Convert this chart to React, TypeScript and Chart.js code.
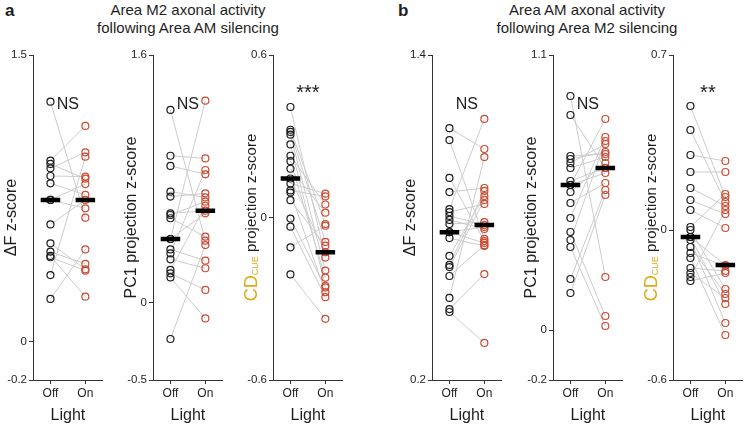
import React, { useEffect, useRef } from 'react';
import { Chart, registerables } from 'chart.js';

Chart.register(...registerables);

const FONT = "'Liberation Sans', Arial, sans-serif";
const TEXT = '#1e1e1e';
const AXIS = '#333333';
const OFF_COLOR = '#1c1c1c';
const ON_COLOR = '#cd4a31';
const PAIR_COLOR = '#cccccc';
const CUE_COLOR = '#ddaa1a';

const xCategories = ['Off', 'On'];
const xTitle = 'Light';

// ---- Panel a: Area M2 axonal activity following Area AM silencing ----
const aDfOff = [1.256, 0.947, 0.93, 0.907, 0.867, 0.829, 0.742, 0.742, 0.614, 0.515, 0.471, 0.449, 0.442, 0.349, 0.224];
const aDfOn = [0.649, 1.129, 0.853, 0.991, 0.864, 0.768, 0.825, 0.698, 0.742, 0.379, 0.407, 0.236, 0.372, 0.968, 0.483];
const aDfTicks = [-0.2, 0, 1.5];

const aPcOff = [1.245, 0.949, 0.883, 0.717, 0.685, 0.577, 0.566, 0.545, 0.411, 0.411, 0.344, 0.318, 0.28, 0.211, 0.189, 0.163, -0.235];
const aPcOn = [0.4, 0.932, 0.829, 0.68, 0.706, 0.594, 0.652, 0.426, 1.305, 0.577, 0.271, 0.857, 0.222, 0.626, 0.082, -0.102, 0.372];
const aPcTicks = [-0.5, 0, 1.6];

const aCdOff = [0.408, 0.324, 0.316, 0.306, 0.27, 0.228, 0.208, 0.18, 0.144, 0.126, 0.1, 0.092, 0.064, -0.004, -0.034, -0.11, -0.21];
const aCdOn = [-0.148, -0.024, -0.09, -0.196, -0.252, 0.048, -0.222, 0.018, -0.128, 0.088, 0.078, -0.276, -0.104, -0.258, -0.294, -0.03, -0.374];
const aCdTicks = [-0.6, 0, 0.6];

// ---- Panel b: Area AM axonal activity following Area M2 silencing ----
const bDfOff = [1.13, 1.086, 0.946, 0.894, 0.831, 0.82, 0.806, 0.791, 0.776, 0.746, 0.746, 0.724, 0.658, 0.625, 0.617, 0.584, 0.503, 0.462, 0.451];
const bDfOn = [1.053, 0.721, 0.713, 0.909, 1.164, 0.85, 0.772, 0.758, 0.783, 0.765, 0.706, 0.695, 0.879, 0.898, 0.865, 0.698, 1.023, 0.591, 0.337];
const bDfTicks = [0.2, 1.4];

const bPcOff = [0.936, 0.86, 0.696, 0.684, 0.668, 0.648, 0.596, 0.58, 0.58, 0.552, 0.508, 0.448, 0.392, 0.36, 0.332, 0.204, 0.148];
const bPcOn = [0.212, 0.648, 0.704, 0.712, 0.744, 0.692, 0.648, 0.844, 0.628, 0.668, 0.588, 0.772, 0.056, 0.756, 0.016, 0.56, 0.54];
const bPcTicks = [-0.2, 0, 1.1];

const bCdOff = [0.496, 0.4, 0.3, 0.232, 0.168, 0.12, 0.08, 0.012, 0.0, -0.028, -0.028, -0.04, -0.068, -0.092, -0.112, -0.152, -0.172, -0.188, -0.204];
const bCdOn = [0.132, 0.112, 0.276, 0.232, 0.096, 0.064, 0.008, 0.144, -0.236, -0.14, -0.296, -0.372, -0.256, -0.144, -0.42, -0.164, -0.272, 0.08, -0.172];
const bCdTicks = [-0.6, 0, 0.7];

const significance = ['NS', 'NS', '***', 'NS', 'NS', '**'];

const yTitleDf = [{ text: '\u0394F z-score', size: 16, color: TEXT, dy: 0 }];
const yTitlePc = [{ text: 'PC1 projection z-score', size: 16, color: TEXT, dy: 0 }];
const yTitleCd = [
  { text: 'CD', size: 18, color: CUE_COLOR, dy: 0 },
  { text: 'CUE', size: 9, color: CUE_COLOR, dy: 4 },
  { text: ' projection z-score', size: 15, color: TEXT, dy: 0 },
];

const panelTitles = [
  { letter: 'a', lines: ['Area M2 axonal activity', 'following Area AM silencing'], center: 188, letterX: 5 },
  { letter: 'b', lines: ['Area AM axonal activity', 'following Area M2 silencing'], center: 587, letterX: 398 },
];

const axisXs = [33, 153, 273, 432, 553, 673];

const panels = [
  { off: aDfOff, on: aDfOn, ticks: aDfTicks, title: yTitleDf, sig: significance[0] },
  { off: aPcOff, on: aPcOn, ticks: aPcTicks, title: yTitlePc, sig: significance[1] },
  { off: aCdOff, on: aCdOn, ticks: aCdTicks, title: yTitleCd, sig: significance[2] },
  { off: bDfOff, on: bDfOn, ticks: bDfTicks, title: yTitleDf, sig: significance[3] },
  { off: bPcOff, on: bPcOn, ticks: bPcTicks, title: yTitlePc, sig: significance[4] },
  { off: bCdOff, on: bCdOn, ticks: bCdTicks, title: yTitleCd, sig: significance[5] },
];

const CANVAS_W = 120;
const CANVAS_H = 428;
const Y_AXIS_W = 45;

function median(a: number[]): number {
  const s = [...a].sort((p, q) => p - q);
  const n = s.length;
  return n % 2 ? s[(n - 1) / 2] : (s[n / 2 - 1] + s[n / 2]) / 2;
}

function Panel({ cfg, axisX }: { cfg: any; axisX: number }) {
  const ref = useRef<HTMLCanvasElement | null>(null);

  useEffect(() => {
    if (!ref.current) return;
    const { off, on, ticks, title, sig } = cfg;
    const datasets: any[] = [];
    off.forEach((v: number, i: number) => {
      datasets.push({
        data: [{ x: 1, y: v }, { x: 2, y: on[i] }],
        showLine: true,
        borderColor: PAIR_COLOR,
        borderWidth: 1,
        pointRadius: 0,
        order: 3,
      });
    });
    datasets.push({
      data: off.map((v: number) => ({ x: 1, y: v })),
      pointRadius: 3.5,
      pointBorderWidth: 1.2,
      pointBorderColor: OFF_COLOR,
      pointBackgroundColor: 'rgba(0,0,0,0)',
      order: 2,
    });
    datasets.push({
      data: on.map((v: number) => ({ x: 2, y: v })),
      pointRadius: 3.5,
      pointBorderWidth: 1.2,
      pointBorderColor: ON_COLOR,
      pointBackgroundColor: 'rgba(0,0,0,0)',
      order: 2,
    });
    const mOff = median(off);
    const mOn = median(on);
    [[1, mOff], [2, mOn]].forEach(([x, m]) => {
      datasets.push({
        data: [{ x: x - 0.28, y: m }, { x: x + 0.28, y: m }],
        showLine: true,
        borderColor: '#000000',
        borderWidth: 4.5,
        borderCapStyle: 'butt',
        pointRadius: 0,
        order: 1,
      });
    });

    const textPlugin = {
      id: 'panelText',
      afterDraw(chart: any) {
        const { ctx, chartArea, scales } = chart;
        ctx.save();
        ctx.translate(chartArea.left - 21, (chartArea.top + chartArea.bottom) / 2);
        ctx.rotate(-Math.PI / 2);
        ctx.textAlign = 'left';
        ctx.textBaseline = 'middle';
        let total = 0;
        for (const s of title) {
          ctx.font = `${s.size}px ${FONT}`;
          total += ctx.measureText(s.text).width;
        }
        let x = -total / 2;
        for (const s of title) {
          ctx.font = `${s.size}px ${FONT}`;
          ctx.fillStyle = s.color;
          ctx.fillText(s.text, x, s.dy);
          x += ctx.measureText(s.text).width;
        }
        ctx.restore();
        ctx.save();
        const isStar = sig.indexOf('*') >= 0;
        ctx.font = `${isStar ? 20 : 16}px ${FONT}`;
        ctx.fillStyle = TEXT;
        ctx.textAlign = 'center';
        ctx.textBaseline = 'alphabetic';
        const sx = scales.x.getPixelForValue(1.5);
        ctx.fillText(sig, sx, chartArea.top + (isStar ? 44 : 54));
        ctx.restore();
      },
    };

    const chart = new Chart(ref.current, {
      type: 'scatter',
      data: { datasets },
      plugins: [textPlugin],
      options: {
        responsive: false,
        animation: false,
        events: [],
        layout: { padding: { left: 0, right: CANVAS_W - Y_AXIS_W - 70, top: 55, bottom: 0 } },
        plugins: { legend: { display: false }, tooltip: { enabled: false } },
        scales: {
          x: {
            type: 'linear',
            min: 0.5,
            max: 2.5,
            afterBuildTicks: (s: any) => {
              s.ticks = xCategories.map((_, i) => ({ value: i + 1 }));
            },
            afterFit: (s: any) => {
              s.height = 48;
            },
            ticks: {
              callback: (v: any) => xCategories[Math.round(Number(v)) - 1] ?? '',
              font: { size: 12, family: FONT },
              color: TEXT,
              padding: 2,
              maxRotation: 0,
              autoSkip: false,
            },
            grid: { display: true, drawOnChartArea: false, drawTicks: true, tickLength: 4, color: AXIS },
            border: { display: true, color: AXIS, width: 1 },
            title: { display: true, text: xTitle, font: { size: 16, family: FONT }, color: TEXT, padding: { top: 0, bottom: 3 } },
          },
          y: {
            type: 'linear',
            min: ticks[0],
            max: ticks[ticks.length - 1],
            afterBuildTicks: (s: any) => {
              s.ticks = ticks.map((v: number) => ({ value: v }));
            },
            afterFit: (s: any) => {
              s.width = Y_AXIS_W;
            },
            ticks: {
              callback: (v: any) => String(v),
              font: { size: 11.5, family: FONT },
              color: TEXT,
              padding: 2,
              autoSkip: false,
            },
            grid: { display: true, drawOnChartArea: false, drawTicks: true, tickLength: 4, color: AXIS },
            border: { display: true, color: AXIS, width: 1 },
          },
        },
      } as any,
    });
    return () => chart.destroy();
  }, [cfg]);

  return (
    <canvas
      ref={ref}
      width={CANVAS_W}
      height={CANVAS_H}
      style={{ position: 'absolute', left: axisX - Y_AXIS_W, top: 0, width: CANVAS_W, height: CANVAS_H }}
    />
  );
}

export default function App() {
  return (
    <div
      style={{
        position: 'absolute',
        left: 0,
        top: 0,
        width: 747,
        height: 428,
        overflow: 'hidden',
        background: '#ffffff',
        fontFamily: FONT,
        color: TEXT,
      }}
    >
      {panelTitles.map((t) => (
        <React.Fragment key={t.letter}>
          <div
            style={{
              position: 'absolute',
              left: t.letterX,
              top: 1,
              fontSize: 17,
              fontWeight: 'bold',
              lineHeight: '20px',
            }}
          >
            {t.letter}
          </div>
          <div
            style={{
              position: 'absolute',
              left: t.center - 150,
              top: 1,
              width: 300,
              textAlign: 'center',
              fontSize: 15,
              lineHeight: '18px',
            }}
          >
            {t.lines.map((l) => (
              <div key={l}>{l}</div>
            ))}
          </div>
        </React.Fragment>
      ))}
      {panels.map((p, i) => (
        <Panel key={i} cfg={p} axisX={axisXs[i]} />
      ))}
    </div>
  );
}
